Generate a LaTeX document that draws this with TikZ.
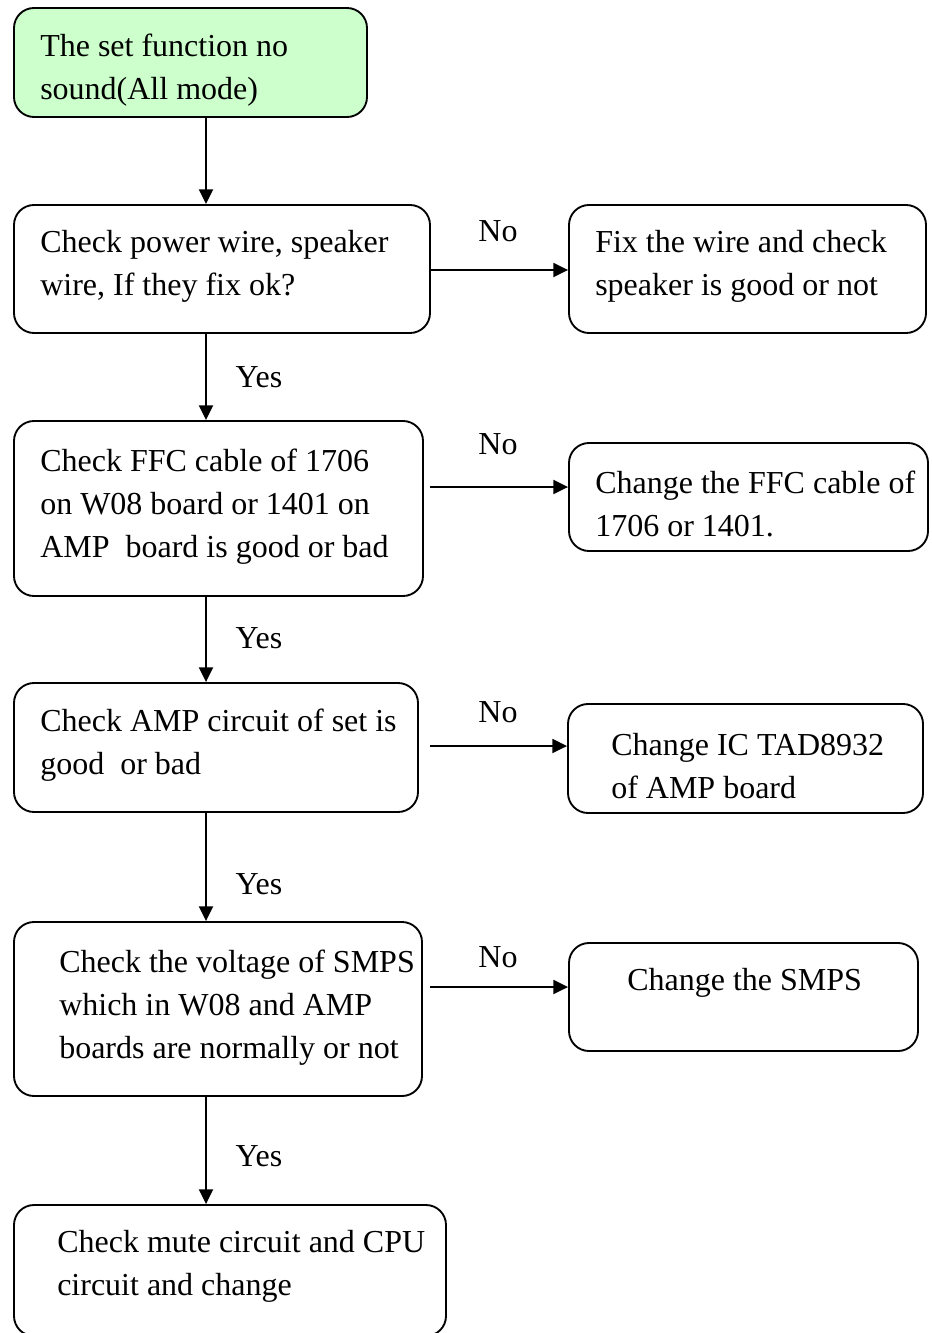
\documentclass[tikz,border=0pt]{standalone}
\usepackage{fontspec}
\setmainfont{Liberation Serif}
\usetikzlibrary{arrows.meta}
\definecolor{startgreen}{RGB}{204,255,204}
\begin{document}
\begin{tikzpicture}[x=0.75pt,y=-0.75pt,
  box/.style={draw, line width=1.4pt, rounded corners=15pt, inner sep=0pt},
  txt/.style={anchor=west, align=left, inner sep=0pt, font=\fontsize{24}{32.25}\selectfont},
  lbl/.style={inner sep=0pt, font=\fontsize{24}{28}\selectfont},
  arr/.style={line width=1.4pt, -{Triangle[length=11pt,width=10.5pt]}}]
\useasboundingbox (0,0) rectangle (931,1333);
\clip (0,0) rectangle (931,1333);
% boxes
\node[box, fill=startgreen, minimum width=264.75pt, minimum height=81.75pt] (top) at (190.5,62.5) {};
\node[box, minimum width=312pt, minimum height=96pt] (b2) at (222,269) {};
\node[box, minimum width=267.75pt, minimum height=96pt] (r2) at (747.5,269) {};
\node[box, minimum width=306.75pt, minimum height=131.25pt] (b3) at (218.5,508.5) {};
\node[box, minimum width=269.25pt, minimum height=81pt] (r3) at (748.5,497) {};
\node[box, minimum width=303pt, minimum height=96.75pt] (b4) at (216,747.5) {};
\node[box, minimum width=266.25pt, minimum height=81.75pt] (r4) at (745.5,758.5) {};
\node[box, minimum width=306pt, minimum height=130.5pt] (b5) at (218,1009) {};
\node[box, minimum width=261.75pt, minimum height=81pt] (r5) at (743.5,997) {};
\node[box, minimum width=324pt, minimum height=98.25pt] (b6) at (230,1270.5) {};
% texts
\node[txt] (ttop) at (40,70) {The set function no\\sound(All mode)};
\node[txt] (tb2) at (40,266) {Check power wire, speaker\\wire, If they fix ok?};
\node[txt] (tr2) at (595,266) {Fix the wire and check\\speaker is good or not};
\node[txt] (tb3) at (40,507) {Check FFC cable of 1706\\on W08 board or 1401 on\\AMP\ \ board is good or bad};
\node[txt] (tr3) at (595,504) {Change the FFC cable of\\1706 or 1401.};
\node[txt] (tb4) at (40,745) {Check AMP circuit of set is\\good\ \ or bad};
\node[txt] (tr4) at (611,766) {Change IC TAD8932\\of AMP board};
\node[txt] (tb5) at (59,1008) {Check the voltage of SMPS\\which in W08 and AMP\\boards are normally or not};
\node[txt] (tr5) at (627,983) {Change the SMPS};
\node[txt] (tb6) at (57,1266) {Check mute circuit and CPU\\circuit and change};
% labels
\node[lbl] (no2) at (498,231) {No};
\node[lbl] (no3) at (498,444) {No};
\node[lbl] (no4) at (498,712) {No};
\node[lbl] (no5) at (498,957) {No};
\node[lbl] (yes2) at (259,377) {Yes};
\node[lbl] (yes3) at (259,638) {Yes};
\node[lbl] (yes4) at (259,884) {Yes};
\node[lbl] (yes5) at (259,1156) {Yes};
% connectors
\coordinate (v) at (206,0);
\draw[arr] (top.south -| v) -- (b2.north -| v);
\draw[arr] (b2.south -| v) -- (b3.north -| v);
\draw[arr] (b3.south -| v) -- (b4.north -| v);
\draw[arr] (b4.south -| v) -- (b5.north -| v);
\draw[arr] (b5.south -| v) -- (b6.north -| v);
\coordinate (h2) at (430,270);
\coordinate (h3) at (430,487);
\coordinate (h4) at (430,746);
\coordinate (h5) at (430,987);
\draw[arr] (h2) -- (h2 -| r2.west);
\draw[arr] (h3) -- (h3 -| r3.west);
\draw[arr] (h4) -- (h4 -| r4.west);
\draw[arr] (h5) -- (h5 -| r5.west);
\end{tikzpicture}
\end{document}
